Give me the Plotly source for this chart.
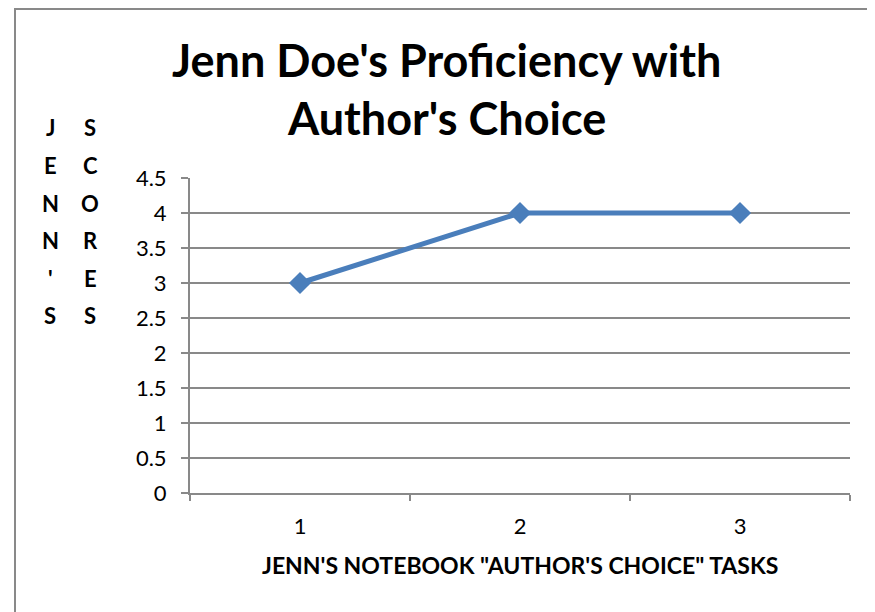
import plotly.graph_objects as go

# data
tareas = [1, 2, 3]
puntajes = [3, 4, 4]
titulo_y_1 = list("JENN'S")
titulo_y_2 = list("SCORES")

gris = "#898989"
azul = "#4A7EBB"

# the page body adds 8px around the figure, so the figure is 8px smaller
# and the margins are shifted to keep the plot area where the original has it
fig = go.Figure()
fig.add_trace(go.Scatter(
    x=tareas,
    y=puntajes,
    mode="lines+markers",
    line=dict(color=azul, width=5),
    marker=dict(symbol="diamond", size=17, color=azul),
    showlegend=False,
))

fig.update_layout(
    width=867,
    height=604,
    margin=dict(l=182, r=25, t=170, b=119, autoexpand=False),
    paper_bgcolor="white",
    plot_bgcolor="white",
    font=dict(family="Lato", color="black", size=22),
)

def px2x(p):
    return (p - 190) / 660

def px2y(p):
    return (493 - p) / 315

# title, two lines
for linea, ypix in (("Jenn Doe's Proficiency with", 60), ("Author's Choice", 118)):
    fig.add_annotation(
        text=f"<b>{linea}</b>", x=px2x(446.5), y=px2y(ypix),
        xref="paper", yref="paper", showarrow=False,
        xanchor="center", yanchor="middle", font=dict(size=45),
    )

fig.update_xaxes(
    range=[0.5, 3.5],
    tickvals=tareas,
    ticktext=[str(t) for t in tareas],
    ticks="",
    showgrid=False,
    showline=True,
    linecolor=gris,
    linewidth=2,
    zeroline=False,
    minor=dict(ticks="outside", tick0=0.5, dtick=1, ticklen=6, tickcolor=gris, tickwidth=2, showgrid=False),
    ticklabelstandoff=13,
)

fig.update_yaxes(
    range=[0, 4.5],
    dtick=0.5,
    showgrid=True,
    gridcolor=gris,
    gridwidth=1.5,
    showline=True,
    linecolor=gris,
    linewidth=2,
    zeroline=False,
    ticks="outside",
    ticklen=7,
    tickcolor=gris,
    tickwidth=2,
    ticklabelstandoff=10,
)

fig.add_annotation(
    text="<b>JENN'S NOTEBOOK \"AUTHOR'S CHOICE\" TASKS</b>",
    x=px2x(520), y=px2y(565), xref="paper", yref="paper", showarrow=False,
    xanchor="center", yanchor="middle", font=dict(size=23),
)

# vertical stacked axis title, one letter per row
for i, (a, b) in enumerate(zip(titulo_y_1, titulo_y_2)):
    for letra, xpix in ((a, 50), (b, 90)):
        fig.add_annotation(
            text=f"<b>{letra}</b>",
            x=px2x(xpix),
            y=px2y(128 + i * 37.5),
            xref="paper",
            yref="paper",
            showarrow=False,
            xanchor="center",
            yanchor="middle",
            font=dict(size=22),
        )

# outer chart border (runs past the right and bottom edges)
fig.add_shape(
    type="rect",
    xref="paper",
    yref="paper",
    x0=px2x(15),
    x1=2,
    y0=-1,
    y1=px2y(9),
    line=dict(color=gris, width=2),
    layer="below",
)

fig.write_html("out.html")
